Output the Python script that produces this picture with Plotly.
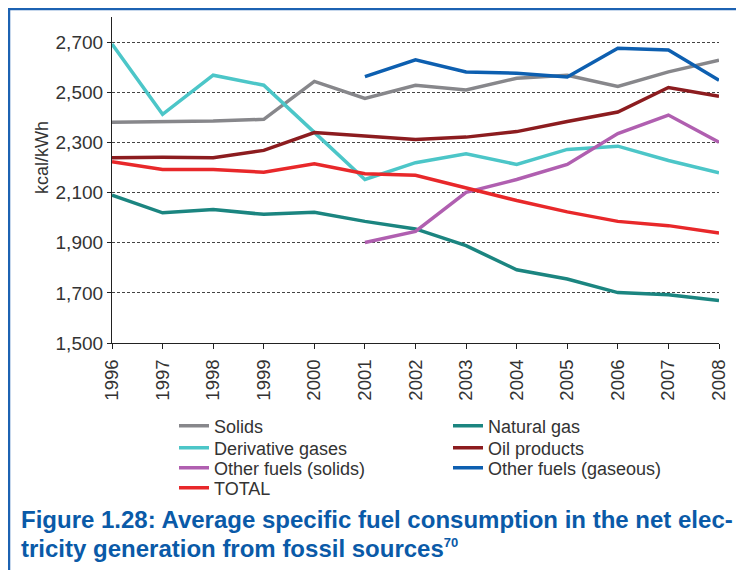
import plotly.graph_objects as go

years = list(range(1996, 2009))
solids = [2380, 2381, 2385, 2392, 2543, 2475, 2528, 2509, 2556, 2568, 2523, 2581, 2628]
derivative_gases = [2692, 2412, 2568, 2528, 2340, 2152, 2219, 2255, 2212, 2272, 2285, 2228, 2179]
natural_gas = [2090, 2019, 2032, 2013, 2021, 1985, 1955, 1888, 1792, 1755, 1701, 1692, 1669]
oil_products = [2239, 2241, 2239, 2268, 2339, 2325, 2312, 2321, 2343, 2383, 2421, 2519, 2484]
other_solids = [None, None, None, None, None, 1901, 1945, 2101, 2152, 2212, 2335, 2409, 2301]
other_gaseous = [None, None, None, None, None, 2562, 2629, 2581, 2576, 2561, 2675, 2668, 2548]
total = [2223, 2192, 2192, 2181, 2215, 2175, 2169, 2119, 2068, 2023, 1985, 1968, 1939]

y_ticks = [1500, 1700, 1900, 2100, 2300, 2500, 2700]
y_tick_labels = ["1,500", "1,700", "1,900", "2,100", "2,300", "2,500", "2,700"]

W, H = 744, 570
OFF = 8  # page body margin
L, R, T, B = 104, 33, 9, 235
PW, PH = W - L - R, H - T - B


def px(xp):
    """page x pixel -> paper coordinate"""
    return (xp - OFF - L) / PW


def py(yp):
    """page y pixel -> paper coordinate"""
    return (H - B - (yp - OFF)) / PH


series = [
    ("Solids", solids, "#87878b", 181, 426),
    ("Natural gas", natural_gas, "#1b8580", 455, 426),
    ("Derivative gases", derivative_gases, "#4cc6c8", 181, 448),
    ("Oil products", oil_products, "#8c1c1f", 455, 448),
    ("Other fuels (solids)", other_solids, "#b05fb0", 181, 468),
    ("Other fuels (gaseous)", other_gaseous, "#0d5fb0", 455, 468),
    ("TOTAL", total, "#e8282a", 181, 488),
]

fig = go.Figure()
layout_legends = {}
for i, (name, vals, color, lx, ly) in enumerate(series):
    lname = "legend" if i == 0 else f"legend{i + 1}"
    fig.add_trace(go.Scatter(
        x=years, y=vals, name=name, mode="lines",
        line=dict(color=color, width=3.5),
        legend=lname, connectgaps=False,
    ))
    layout_legends[lname] = dict(
        x=px(lx - 7), y=py(ly), xanchor="left", yanchor="middle",
        orientation="v", bgcolor="rgba(0,0,0,0)", borderwidth=0,
        font=dict(family="Liberation Sans, Arial, sans-serif", size=18, color="#333333"),
        itemclick=False, itemdoubleclick=False,
    )

fig.update_layout(
    width=W, height=H,
    margin=dict(l=L, r=R, t=T, b=B, pad=0),
    paper_bgcolor="white", plot_bgcolor="white",
    showlegend=True,
    **layout_legends,
)

fig.update_xaxes(
    range=[1996, 2008], tickmode="array", tickvals=years,
    ticktext=[str(y) for y in years], tickangle=-90,
    showgrid=False, zeroline=False,
    showline=True, linecolor="#222222", linewidth=1.2,
    ticks="outside", ticklen=5, tickcolor="#222222", tickwidth=1,
    ticklabelstandoff=3,
    tickfont=dict(family="Liberation Sans, Arial, sans-serif", size=18.5, color="#333333"),
)
fig.update_yaxes(
    range=[1500, 2800], tickmode="array", tickvals=y_ticks, ticktext=y_tick_labels,
    showgrid=True, gridcolor="#444444", gridwidth=1, griddash="3px,2px",
    zeroline=False,
    showline=True, linecolor="#222222", linewidth=1.2,
    ticks="outside", ticklen=4, tickcolor="#222222", tickwidth=1,
    tickfont=dict(family="Liberation Sans, Arial, sans-serif", size=19, color="#333333"),
)

fig.add_annotation(
    text="kcal/kWh", textangle=-90, xref="paper", yref="paper",
    x=px(42), y=py(158), xanchor="center", yanchor="middle", showarrow=False,
    font=dict(family="Liberation Sans, Arial, sans-serif", size=18, color="#333333"),
)

cap_font = dict(family="Liberation Sans, Arial, sans-serif", size=24, color="#0a5aa8", weight="bold")
fig.add_annotation(
    text="Figure 1.28: Average specific fuel consumption in the net elec-",
    xref="paper", yref="paper", x=px(19), y=py(519), xanchor="left", yanchor="middle",
    showarrow=False, font=cap_font,
)
fig.add_annotation(
    text="tricity generation from fossil sources<sup><span style='font-size:13px'>70</span></sup>",
    xref="paper", yref="paper", x=px(19), y=py(548), xanchor="left", yanchor="middle",
    showarrow=False, font=cap_font,
)

frame = "#1c62b2"
fig.add_shape(type="line", xref="paper", yref="paper", x0=px(8), x1=px(760), y0=py(9), y1=py(9),
              line=dict(color=frame, width=2.5))
fig.add_shape(type="line", xref="paper", yref="paper", x0=px(9), x1=px(9), y0=py(8), y1=py(590),
              line=dict(color=frame, width=2.5))

fig.write_html("out.html")
